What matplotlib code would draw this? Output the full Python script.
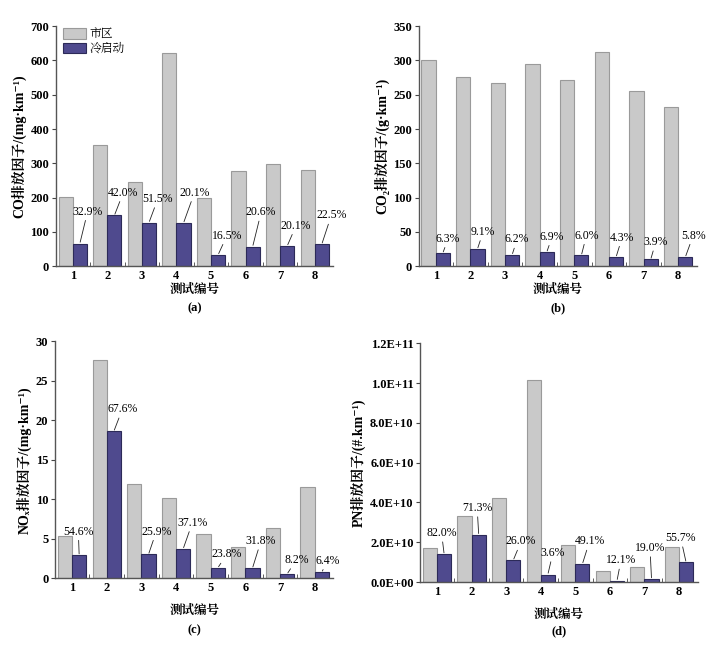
import matplotlib
matplotlib.use('Agg')
import matplotlib.pyplot as plt
from matplotlib.ticker import FuncFormatter, FixedLocator

plt.rcParams['font.family'] = ['Liberation Serif', 'Noto Serif CJK SC', 'Noto Sans CJK SC', 'DejaVu Serif']
plt.rcParams['axes.linewidth'] = 1.0

tests = [1, 2, 3, 4, 5, 6, 7, 8]

# CO (mg/km)
co_city = [202, 353, 245, 623, 198, 279, 297, 280]
co_cold = [66, 148, 127, 126, 33, 57, 59, 64]
co_pct = ['32.9%', '42.0%', '51.5%', '20.1%', '16.5%', '20.6%', '20.1%', '22.5%']

# CO2 (g/km)
co2_city = [301, 276, 267, 295, 271, 312, 255, 232]
co2_cold = [19, 25, 16.5, 20.4, 16, 13.2, 9.8, 13.3]
co2_pct = ['6.3%', '9.1%', '6.2%', '6.9%', '6.0%', '4.3%', '3.9%', '5.8%']

# NOx (mg/km)
nox_city = [5.3, 27.7, 11.9, 10.2, 5.6, 3.9, 6.3, 11.6]
nox_cold = [2.9, 18.6, 3.0, 3.7, 1.3, 1.25, 0.52, 0.74]
nox_pct = ['54.6%', '67.6%', '25.9%', '37.1%', '23.8%', '31.8%', '8.2%', '6.4%']

# PN (#/km)
pn_city = [1.71e10, 3.33e10, 4.22e10, 1.016e11, 1.86e10, 5.4e9, 7.5e9, 1.77e10]
pn_cold = [1.40e10, 2.37e10, 1.10e10, 3.8e9, 9.1e9, 6.5e8, 1.45e9, 9.9e9]
pn_pct = ['82.0%', '71.3%', '26.0%', '3.6%', '49.1%', '12.1%', '19.0%', '55.7%']

gray = '#c9c9c9'
gray_edge = '#9a9a9a'
blue = '#4f4a8e'
blue_edge = '#2c2a58'
w = 0.41

fig = plt.figure(figsize=(7.2, 6.54), dpi=100)

panels = [
    # rect, city, cold, pct, ylim, yticks, ylabel, tag, label positions (x, y), xlabel pad, tag y
    ([0.078, 0.593, 0.385, 0.367], co_city, co_cold, co_pct, 700, range(0, 701, 100),
     'CO排放因子/(mg·km⁻¹)', '(a)',
     [(1.43, 159), (2.46, 214), (3.46, 196), (4.52, 214), (5.46, 89), (6.45, 157), (7.46, 118), (8.48, 148)],
     1, -0.15),
    ([0.582, 0.593, 0.386, 0.367], co2_city, co2_cold, co2_pct, 350, range(0, 351, 50),
     'CO₂排放因子/(g·km⁻¹)', '(b)',
     [(1.36, 40), (2.37, 50), (3.35, 39), (4.36, 43), (5.35, 44.6), (6.38, 41.7), (7.35, 35), (8.43, 44.6)],
     1, -0.15),
    ([0.077, 0.116, 0.386, 0.362], nox_city, nox_cold, nox_pct, 30, range(0, 31, 5),
     'NOₓ排放因子/(mg·km⁻¹)', '(c)',
     [(1.18, 5.9), (2.45, 21.4), (3.43, 5.9), (4.47, 7.0), (5.46, 3.0), (6.45, 4.7), (7.47, 2.3), (8.37, 2.2)],
     7, -0.195),
    ([0.584, 0.110, 0.385, 0.365], pn_city, pn_cold, pn_pct, 1.2e11, [i * 2e10 for i in range(7)],
     'PN排放因子/(#.km⁻¹)', '(d)',
     [(1.13, 2.46e10), (2.16, 3.72e10), (3.43, 2.04e10), (4.35, 1.46e10), (5.41, 2.04e10), (6.32, 1.09e10), (7.16, 1.71e10), (8.05, 2.21e10)],
     7, -0.18),
]

for rect, city, cold, pct, ymax, yticks, ylabel, tag, pos, xpad, tag_y in panels:
    ax = fig.add_axes(rect)
    xl = [t - w / 2 for t in tests]
    xr = [t + w / 2 for t in tests]
    ax.bar(xl, city, width=w, color=gray, edgecolor=gray_edge, linewidth=0.8, label='市区')
    ax.bar(xr, cold, width=w, color=blue, edgecolor=blue_edge, linewidth=0.8, label='冷启动')
    for i in range(8):
        ax.annotate(pct[i], xy=(xr[i], cold[i]), xytext=pos[i], ha='center', va='center',
                    fontsize=8.5, arrowprops=dict(arrowstyle='-', lw=0.6, color='#222222',
                                                  shrinkA=0, shrinkB=1))
    ax.set_xlim(0.52, 8.54)
    ax.set_ylim(0, ymax)
    ax.set_yticks(list(yticks))
    ax.set_xticks(tests)
    ax.xaxis.set_minor_locator(FixedLocator([t + 0.5 for t in tests[:-1]]))
    ax.tick_params(axis='x', which='major', length=0, pad=3)
    ax.tick_params(axis='x', which='minor', direction='in', length=3, color='#444444')
    ax.tick_params(axis='y', direction='out', length=3, color='#444444', pad=2)
    for lab in ax.get_xticklabels() + ax.get_yticklabels():
        lab.set_fontweight('bold')
        lab.set_fontsize(9)
    if tag == '(d)':
        ax.yaxis.set_major_formatter(FuncFormatter(lambda v, p: f'{v:.1E}'))
    for s in ['top', 'right']:
        ax.spines[s].set_visible(False)
    for s in ['left', 'bottom']:
        ax.spines[s].set_color('#555555')
    ax.set_ylabel(ylabel, fontsize=10, fontweight='bold', labelpad=3)
    ax.set_xlabel('测试编号', fontsize=9, fontweight='bold', labelpad=xpad)
    ax.text(0.5, tag_y, tag, transform=ax.transAxes, ha='center', va='top',
            fontsize=9, fontweight='bold')
    if tag == '(a)':
        ax.legend(loc='upper left', bbox_to_anchor=(0.0, 1.02), frameon=False, fontsize=8.5,
                  handlelength=1.9, handleheight=1.0, handletextpad=0.3, labelspacing=0.15,
                  borderaxespad=0.2)

fig.savefig('out.png', dpi=100, facecolor='white')
